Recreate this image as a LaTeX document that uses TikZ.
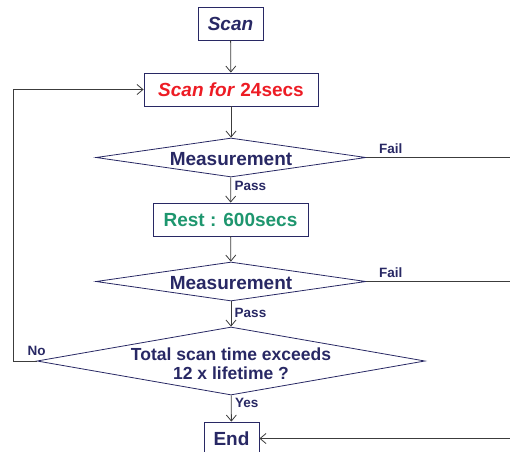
\documentclass[tikz,border=0pt]{standalone}
\usepackage{fontspec}
\setmainfont{Liberation Sans}
\usetikzlibrary{shapes.geometric,arrows.meta}
\definecolor{navy}{RGB}{40,40,100}
\definecolor{scanred}{RGB}{237,28,36}
\definecolor{restgreen}{RGB}{30,150,110}
\definecolor{wiregray}{RGB}{60,60,60}
\tikzset{
	box/.style={draw=navy, line width=0.8pt, inner sep=0pt, font=\fontsize{19}{22}\selectfont\bfseries},
	decision/.style={draw=navy, line width=0.8pt, shape=diamond, inner sep=0pt},
	big/.style={font=\fontsize{19}{22}\selectfont\bfseries, text=navy, align=center},
	small/.style={font=\fontsize{13.5}{15}\selectfont\bfseries, text=navy},
	wire/.style={draw=wiregray, line width=0.8pt},
	flow/.style={wire, -{Straight Barb[length=6pt, width=10pt]}}
}
\begin{document}
\begin{tikzpicture}[x=1pt, y=-1pt]
	\clip (0, 0) rectangle (510, 451);
	\node[box, minimum width=65, minimum height=33, text=navy] (scan) at (230.5, 23.5) {\itshape Scan};
	\node[box, minimum width=174, minimum height=33, text=scanred] (scanfor) at (231, 89.5) {\textit{Scan for} 24secs};
	\node[decision, minimum width=270, minimum height=39] (meas1) at (231, 157.5) {};
	\node[big] (meas1text) at (231, 159) {Measurement};
	\node[box, minimum width=155, minimum height=33, text=restgreen] (rest) at (230.5, 219.5) {Rest : 600secs};
	\node[decision, minimum width=270, minimum height=39] (meas2) at (231, 281.5) {};
	\node[big] (meas2text) at (231, 283) {Measurement};
	\node[decision, minimum width=388, minimum height=68] (total) at (231, 361) {};
	\node[big, font=\fontsize{17.5}{19}\selectfont\bfseries] (totaltext) at (231, 364) {Total scan time exceeds\\12 x lifetime ?};
	\node[box, minimum width=55, minimum height=33, text=navy] (end) at (231.5, 438.5) {End};
	\coordinate (fail1end) at (510, 157.5);
	\coordinate (fail2end) at (510, 281.5);
	\coordinate (failin) at (510, 438.5);
	\draw[flow] (scan) -- (scanfor);
	\draw[flow] (scanfor) -- (meas1);
	\draw[flow] (meas1) -- node[small, right, pos=0.35] (pass1) {Pass} (rest);
	\draw[flow] (rest) -- (meas2);
	\draw[flow] (meas2) -- node[small, right, pos=0.45] (pass2) {Pass} (total);
	\draw[flow] (total) -- node[small, right, pos=0.3] (yes) {Yes} (end);
	\draw[wire] (meas1.east) -- node[small, above, pos=0.17] (fail1) {Fail} (fail1end);
	\draw[wire] (meas2.east) -- node[small, above, pos=0.17] (fail2) {Fail} (fail2end);
	\draw[flow] (failin) -- (end);
	\draw[flow] (total.west) node[small, above, yshift=2pt] (no) {No} -- ++(-23, 0) |- (scanfor.west);
\end{tikzpicture}
\end{document}
